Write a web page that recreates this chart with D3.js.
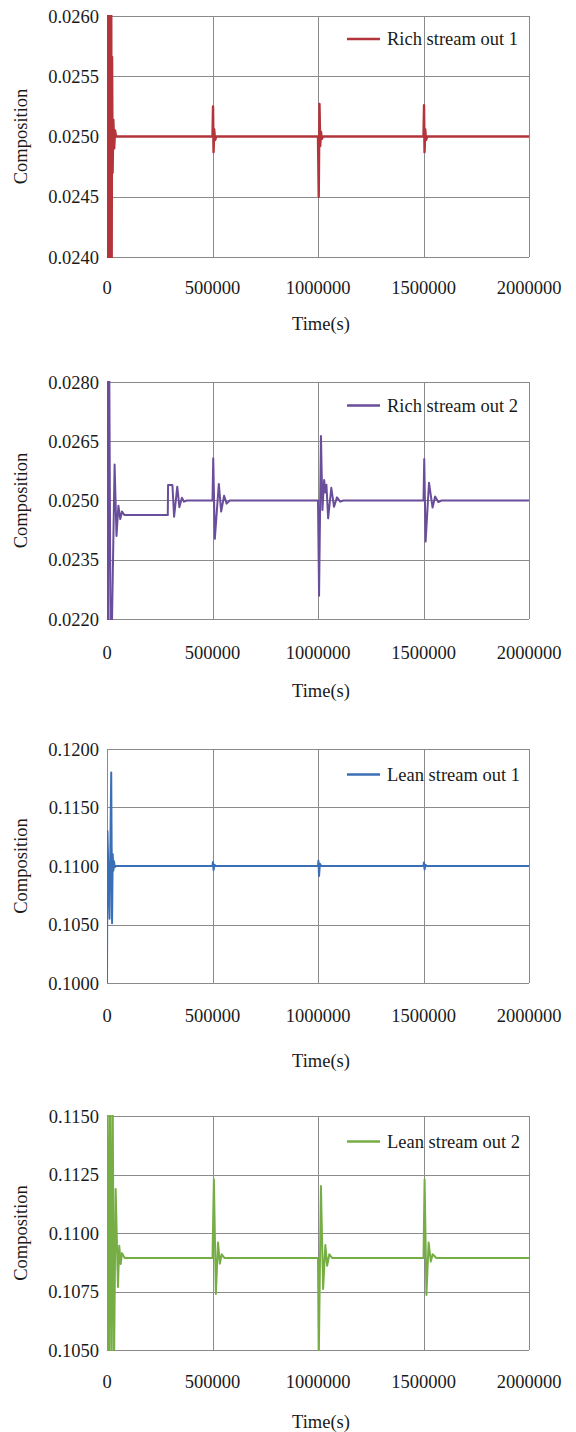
<!DOCTYPE html>
<html>
<head>
<meta charset="utf-8">
<script src="https://cdn.jsdelivr.net/npm/d3@7"></script>
<style>
  html, body { margin: 0; padding: 0; background: #fff; }
  svg { display: block; }
  svg text { font-family: "Liberation Serif", "Tinos", "Times New Roman", "DejaVu Serif", serif; font-size: 18.5px; fill: #1a1a1a; }
</style>
</head>
<body>
<div id="container"></div>
<script>
// Time axis ticks shared by all four panels
const timeTicks = [0, 500000, 1000000, 1500000, 2000000];

// Rich stream out 1
const rich1Ticks = [0.0240, 0.0245, 0.0250, 0.0255, 0.0260];
const rich1Time = [0, 2500, 5000, 7500, 10000, 12500, 15000, 17500, 20000, 22000,
  24000, 26500, 30000, 34000, 38000, 43000,
  500000, 502500, 505000, 508000, 512000, 518000,
  1000000, 1003500, 1007000, 1010500, 1014000, 1018000, 1024000,
  1500000, 1502500, 1505000, 1508000, 1512000, 1518000, 2000000];
const rich1Value = [0.0262, 0.0238, 0.0262, 0.0238, 0.0262, 0.0238, 0.0262, 0.0238, 0.0262, 0.0238,
  0.02566, 0.02470, 0.02514, 0.02490, 0.02505, 0.0250,
  0.0250, 0.02525, 0.02487, 0.02506, 0.02497, 0.0250,
  0.0250, 0.02450, 0.02527, 0.02492, 0.02504, 0.02498, 0.0250,
  0.0250, 0.02526, 0.02487, 0.02506, 0.02497, 0.0250, 0.0250];

// Rich stream out 2
const rich2Ticks = [0.0220, 0.0235, 0.0250, 0.0265, 0.0280];
const rich2Time = [0, 4000, 10000, 17000, 23000, 36000, 45000, 54000, 63000, 71000, 83000,
  288000, 289500, 310000, 318000, 333000, 343000, 355000, 365000, 378000,
  500000, 503500, 511000, 530000, 541000, 555000, 567000, 582000,
  1000000, 1005000, 1014000, 1021000, 1029000, 1035000, 1040000, 1048000, 1063000, 1076000, 1090000, 1105000, 1120000,
  1500000, 1503500, 1510000, 1526000, 1543000, 1555000, 1570000, 1585000, 2000000];
const rich2Value = [0.0292, 0.0212, 0.0292, 0.0214, 0.0217, 0.02591, 0.02410, 0.02487, 0.02453, 0.02472, 0.02463,
  0.02463, 0.02539, 0.02539, 0.02459, 0.02535, 0.02483, 0.02507, 0.02497, 0.0250,
  0.0250, 0.02607, 0.02403, 0.02542, 0.02472, 0.02512, 0.02492, 0.0250,
  0.0250, 0.02259, 0.02663, 0.02476, 0.02552, 0.02520, 0.02540, 0.02455, 0.02532, 0.02484, 0.02508, 0.02497, 0.0250,
  0.0250, 0.02605, 0.02396, 0.02545, 0.02482, 0.02510, 0.02496, 0.0250, 0.0250];

// Lean stream out 1
const lean1Ticks = [0.1000, 0.1050, 0.1100, 0.1150, 0.1200];
const lean1Time = [0, 2000, 12000, 20000, 24000, 27000, 30000, 33000, 37000, 42000,
  500000, 502000, 505000, 509000, 515000,
  1000000, 1002000, 1005000, 1009000, 1015000,
  1500000, 1502000, 1505000, 1509000, 1515000, 2000000];
const lean1Value = [0.1000, 0.1130, 0.1055, 0.1180, 0.1051, 0.1110, 0.1096, 0.1104, 0.1099, 0.1100,
  0.1100, 0.11034, 0.10966, 0.11010, 0.1100,
  0.1100, 0.11045, 0.10915, 0.11020, 0.1100,
  0.1100, 0.11030, 0.10970, 0.11010, 0.1100, 0.1100];

// Lean stream out 2
const lean2Ticks = [0.1050, 0.1075, 0.1100, 0.1125, 0.1150];
const lean2Time = [0, 3000, 9000, 15000, 21000, 27000, 33000, 41000, 52000, 58000, 65000, 71000, 84000,
  500000, 506500, 516000, 526000, 535000, 543500, 557000,
  1000000, 1003500, 1013900, 1024300, 1034700, 1043300, 1053700, 1067600,
  1500000, 1505200, 1513900, 1524300, 1534700, 1543300, 1560700, 2000000];
const lean2Value = [0.1040, 0.1165, 0.1035, 0.1165, 0.1035, 0.1160, 0.1040, 0.11188, 0.10769, 0.10946, 0.10868, 0.10914, 0.10893,
  0.10893, 0.11230, 0.10739, 0.10959, 0.10869, 0.10909, 0.10893,
  0.10893, 0.10450, 0.11201, 0.10761, 0.10949, 0.10860, 0.10909, 0.10893,
  0.10893, 0.11229, 0.10735, 0.10959, 0.10878, 0.10909, 0.10893, 0.10893];

const seriesNames = ["Rich stream out 1", "Rich stream out 2", "Lean stream out 1", "Lean stream out 2"];

// Layout
const width = 576;
const height = 1432;
const plotLeft = 107;
const plotRight = 529;
const gridColor = "#8a8a8a";

const panels = [
  { name: seriesNames[0], time: rich1Time, value: rich1Value, ticks: rich1Ticks, color: "#b3343b", width: 2.4,
    top: 16, bottom: 257, labelOff: 30.5, titleOff: 66, legendOff: 23 },
  { name: seriesNames[1], time: rich2Time, value: rich2Value, ticks: rich2Ticks, color: "#6a4d9b", width: 2,
    top: 382, bottom: 619, labelOff: 33, titleOff: 71.5, legendOff: 23.5 },
  { name: seriesNames[2], time: lean1Time, value: lean1Value, ticks: lean1Ticks, color: "#3b6fb5", width: 2,
    top: 749, bottom: 983, labelOff: 32.5, titleOff: 77, legendOff: 25.5 },
  { name: seriesNames[3], time: lean2Time, value: lean2Value, ticks: lean2Ticks, color: "#76ad45", width: 2,
    top: 1116, bottom: 1350, labelOff: 31.5, titleOff: 71.5, legendOff: 25.5 }
];

const svg = d3.create("svg").attr("width", width).attr("height", height)
  .style("background", "#fff");

panels.forEach((p, i) => {
  const x = d3.scaleLinear().domain([0, 2000000]).range([plotLeft, plotRight]);
  const y = d3.scaleLinear().domain([p.ticks[0], p.ticks[p.ticks.length - 1]]).range([p.bottom, p.top]);
  const g = svg.append("g");

  // Horizontal gridlines
  g.append("g")
    .selectAll("line")
    .data(p.ticks)
    .join("line")
    .attr("x1", plotLeft).attr("x2", plotRight)
    .attr("y1", (d) => Math.round(y(d)) + 0.5).attr("y2", (d) => Math.round(y(d)) + 0.5)
    .attr("stroke", gridColor).attr("stroke-width", 1);

  // Vertical gridlines (plus left axis & right border)
  g.append("g")
    .selectAll("line")
    .data(timeTicks)
    .join("line")
    .attr("x1", (d) => Math.round(x(d)) + 0.5).attr("x2", (d) => Math.round(x(d)) + 0.5)
    .attr("y1", p.top).attr("y2", p.bottom)
    .attr("stroke", gridColor).attr("stroke-width", 1);

  // Y tick labels
  g.append("g")
    .selectAll("text")
    .data(p.ticks)
    .join("text")
    .attr("x", plotLeft - 8)
    .attr("y", (d) => y(d))
    .attr("dy", "0.36em")
    .attr("text-anchor", "end")
    .text(d3.format(".4f"));

  // X tick labels
  g.append("g")
    .selectAll("text")
    .data(timeTicks)
    .join("text")
    .attr("x", (d) => x(d))
    .attr("y", p.bottom + p.labelOff)
    .attr("dy", "0.36em")
    .attr("text-anchor", "middle")
    .text(d3.format("d"));

  // Axis titles
  g.append("text")
    .attr("x", (plotLeft + plotRight) / 2 + 3)
    .attr("y", p.bottom + p.titleOff)
    .attr("dy", "0.36em")
    .attr("text-anchor", "middle")
    .text("Time(s)");

  g.append("text")
    .attr("transform", `translate(27,${(p.top + p.bottom) / 2}) rotate(-90)`)
    .attr("text-anchor", "middle")
    .text("Composition");

  // Series line, clipped to the plot area
  const clipId = "clip" + i;
  svg.append("clipPath").attr("id", clipId)
    .append("rect")
    .attr("x", plotLeft).attr("y", p.top - 1)
    .attr("width", plotRight - plotLeft + 1).attr("height", p.bottom - p.top + 2);

  const data = p.time.map((t, k) => [t, p.value[k]]);
  const line = d3.line().x((d) => x(d[0])).y((d) => y(d[1]));

  g.append("path")
    .datum(data)
    .attr("clip-path", `url(#${clipId})`)
    .attr("fill", "none")
    .attr("stroke", p.color)
    .attr("stroke-width", p.width)
    .attr("stroke-linejoin", "round")
    .attr("d", line);

  // Legend
  const ly = p.top + p.legendOff;
  g.append("line")
    .attr("x1", 347).attr("x2", 380)
    .attr("y1", ly).attr("y2", ly)
    .attr("stroke", p.color).attr("stroke-width", 2.5);
  g.append("text")
    .attr("x", 387).attr("y", ly)
    .attr("dy", "0.34em")
    .text(p.name);
});

document.getElementById("container").append(svg.node());
</script>
</body>
</html>
